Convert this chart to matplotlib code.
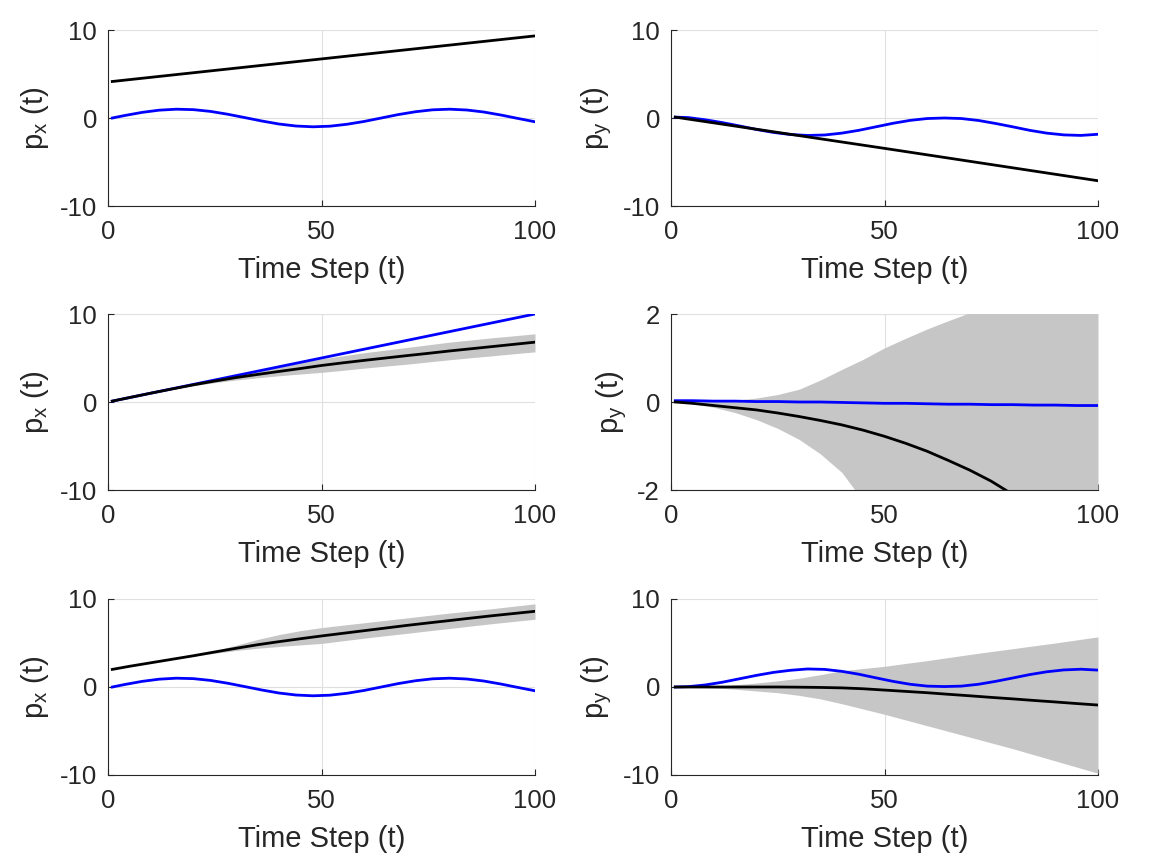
import numpy as np
import matplotlib.pyplot as plt

plt.rcParams['font.family'] = ['Liberation Sans', 'DejaVu Sans']
plt.rcParams['mathtext.default'] = 'regular'
plt.rcParams['axes.unicode_minus'] = False

# time steps used for the wavy blue curves
t_wave = [1, 4, 8, 12, 16, 20, 24, 28, 32, 36, 40, 44, 48, 52,
          56, 60, 64, 68, 72, 76, 80, 84, 88, 92, 96, 100]
# time steps used for the black estimates and grey bands
t_est = [1, 5, 10, 15, 20, 25, 30, 35, 40, 45, 50, 55, 60, 65, 70,
         75, 80, 85, 90, 95, 100]

# px, true trajectory (rows 1 and 3)
px_true_wave = [0.0, 0.29, 0.64, 0.89, 1.0, 0.95, 0.75, 0.43, 0.05, -0.34,
                -0.68, -0.91, -1.0, -0.93, -0.71, -0.39, 0.0, 0.39, 0.71,
                0.93, 1.0, 0.91, 0.68, 0.34, -0.05, -0.43]
# py, true trajectory (row 3) ; row 1 is roughly its negative
py_true_wave = [0.0, 0.04, 0.23, 0.54, 0.93, 1.32, 1.66, 1.90, 2.05, 2.0,
                1.78, 1.45, 1.04, 0.64, 0.31, 0.1, 0.05, 0.1, 0.31, 0.64,
                1.02, 1.41, 1.73, 1.94, 2.02, 1.92]
py_row1_wave = [0.1, 0.05, -0.2, -0.52, -0.9, -1.3, -1.64, -1.88, -1.98,
                -1.93, -1.72, -1.4, -1.0, -0.6, -0.27, -0.06, 0.0, -0.06,
                -0.28, -0.62, -1.0, -1.4, -1.72, -1.92, -1.98, -1.85]

# row 1 black
px_row1_est_t = [1, 100]
px_row1_est = [4.15, 9.33]
py_row1_est_t = [1, 50, 100]
py_row1_est = [0.1, -3.45, -7.13]

# row 2
px_row2_true = [0.1, 0.5, 1.0, 1.5, 2.0, 2.5, 3.0, 3.5, 4.0, 4.5, 5.0,
                5.5, 6.0, 6.5, 7.0, 7.5, 8.0, 8.5, 9.0, 9.5, 10.0]
px_row2_est = [0.1, 0.5, 1.0, 1.48, 1.95, 2.38, 2.78, 3.13, 3.47, 3.8, 4.15,
               4.45, 4.73, 5.0, 5.27, 5.53, 5.8, 6.05, 6.3, 6.55, 6.8]
px_row2_hi = [0.1, 0.5, 1.0, 1.5, 1.98, 2.45, 2.95, 3.45, 3.95, 4.45, 4.9,
              5.25, 5.6, 5.9, 6.2, 6.5, 6.8, 7.05, 7.3, 7.52, 7.75]
px_row2_lo = [0.1, 0.5, 1.0, 1.45, 1.85, 2.2, 2.5, 2.75, 2.98, 3.18, 3.37,
              3.6, 3.85, 4.08, 4.3, 4.55, 4.8, 5.03, 5.25, 5.48, 5.7]

py_row2_true = [0.03, 0.03, 0.02, 0.02, 0.01, 0.01, 0.0, 0.0, -0.01, -0.02,
                -0.03, -0.03, -0.04, -0.05, -0.05, -0.06, -0.06, -0.07,
                -0.07, -0.08, -0.08]
py_row2_est = [0.0, -0.03, -0.08, -0.13, -0.18, -0.25, -0.33, -0.42, -0.52,
               -0.64, -0.78, -0.94, -1.12, -1.33, -1.55, -1.8, -2.1, -2.45,
               -2.85, -3.25, -3.7]
py_row2_hi = [0.0, 0.01, 0.02, 0.04, 0.09, 0.17, 0.29, 0.5, 0.74, 0.97,
              1.23, 1.45, 1.66, 1.85, 2.03, 2.2, 2.4, 2.6, 2.8, 3.0, 3.2]
py_row2_lo = [0.0, -0.04, -0.12, -0.24, -0.4, -0.6, -0.85, -1.18, -1.6,
              -2.25, -3.0, -3.7, -4.4, -5.0, -5.6, -6.2, -6.9, -7.5, -8.1,
              -8.8, -9.5]

# row 3
px_row3_est = [2.0, 2.35, 2.75, 3.15, 3.55, 3.98, 4.4, 4.8, 5.15, 5.48, 5.8,
               6.1, 6.4, 6.7, 7.0, 7.28, 7.55, 7.83, 8.1, 8.35, 8.6]
px_row3_hi = [2.0, 2.35, 2.75, 3.15, 3.6, 4.15, 4.75, 5.4, 5.95, 6.4, 6.75,
              7.03, 7.3, 7.58, 7.85, 8.13, 8.4, 8.65, 8.9, 9.18, 9.45]
px_row3_lo = [2.0, 2.35, 2.75, 3.15, 3.5, 3.83, 4.15, 4.4, 4.6, 4.78, 4.95,
              5.25, 5.55, 5.83, 6.1, 6.38, 6.65, 6.93, 7.2, 7.45, 7.7]

py_row3_est = [0.0, 0.0, 0.0, 0.0, 0.0, 0.0, -0.02, -0.05, -0.1, -0.2,
               -0.35, -0.5, -0.65, -0.83, -1.0, -1.18, -1.35, -1.53, -1.7,
               -1.88, -2.05]
py_row3_hi = [0.0, 0.02, 0.08, 0.25, 0.45, 0.7, 1.0, 1.4, 1.85, 2.1, 2.35,
              2.68, 3.0, 3.35, 3.7, 4.03, 4.35, 4.68, 5.0, 5.35, 5.7]
py_row3_lo = [0.0, -0.02, -0.1, -0.25, -0.45, -0.65, -0.95, -1.35, -1.9,
              -2.5, -3.1, -3.75, -4.4, -5.05, -5.7, -6.35, -7.0, -7.7, -8.4,
              -9.1, -9.8]

dark = (0.15, 0.15, 0.15)
grey_fill = '#c6c6c6'
fig_w, fig_h = 1164, 867


def style_axes(ax, ylim, yticks, ylabel):
    ax.set_xlim(0, 100)
    ax.set_ylim(ylim)
    ax.set_xticks([0, 50, 100])
    ax.set_yticks(yticks)
    ax.grid(True, color='#dfdfdf', linewidth=0.8)
    ax.set_axisbelow(True)
    for side in ['top', 'right']:
        ax.spines[side].set_visible(False)
    for side in ['left', 'bottom']:
        ax.spines[side].set_color(dark)
        ax.spines[side].set_linewidth(0.8)
    ax.tick_params(direction='in', length=4, width=0.8, colors=dark,
                   labelsize=18.5, pad=8)
    ax.tick_params(axis='x', pad=10)
    ax.set_xlabel('Time Step (t)', fontsize=21, color=dark, labelpad=9)
    ax.set_ylabel(ylabel, fontsize=21, color=dark, labelpad=6)


def add_axes(fig, left_px, top_px):
    w = 427 / fig_w
    h = 176 / fig_h
    return fig.add_axes([left_px / fig_w, 1 - (top_px + 176) / fig_h, w, h])


fig = plt.figure(figsize=(fig_w / 100, fig_h / 100), dpi=100)
lefts = [108, 671]
tops = [30, 314, 599]

# row 1
ax = add_axes(fig, lefts[0], tops[0])
ax.plot(t_wave, px_true_wave, color='blue', lw=2)
ax.plot(px_row1_est_t, px_row1_est, color='black', lw=2)
style_axes(ax, (-10, 10), [-10, 0, 10], r'p$_x$ (t)')

ax = add_axes(fig, lefts[1], tops[0])
ax.plot(t_wave, py_row1_wave, color='blue', lw=2)
ax.plot(py_row1_est_t, py_row1_est, color='black', lw=2)
style_axes(ax, (-10, 10), [-10, 0, 10], r'p$_y$ (t)')

# row 2
ax = add_axes(fig, lefts[0], tops[1])
ax.fill_between(t_est, px_row2_lo, px_row2_hi, color=grey_fill, lw=0)
ax.plot(t_est, px_row2_true, color='blue', lw=2)
ax.plot(t_est, px_row2_est, color='black', lw=2)
style_axes(ax, (-10, 10), [-10, 0, 10], r'p$_x$ (t)')

ax = add_axes(fig, lefts[1], tops[1])
ax.fill_between(t_est, py_row2_lo, py_row2_hi, color=grey_fill, lw=0)
ax.plot(t_est, py_row2_true, color='blue', lw=2)
ax.plot(t_est, py_row2_est, color='black', lw=2)
style_axes(ax, (-2, 2), [-2, 0, 2], r'p$_y$ (t)')

# row 3
ax = add_axes(fig, lefts[0], tops[2])
ax.fill_between(t_est, px_row3_lo, px_row3_hi, color=grey_fill, lw=0)
ax.plot(t_wave, px_true_wave, color='blue', lw=2)
ax.plot(t_est, px_row3_est, color='black', lw=2)
style_axes(ax, (-10, 10), [-10, 0, 10], r'p$_x$ (t)')

ax = add_axes(fig, lefts[1], tops[2])
ax.fill_between(t_est, py_row3_lo, py_row3_hi, color=grey_fill, lw=0)
ax.plot(t_wave, py_true_wave, color='blue', lw=2)
ax.plot(t_est, py_row3_est, color='black', lw=2)
style_axes(ax, (-10, 10), [-10, 0, 10], r'p$_y$ (t)')

fig.savefig('out.png', dpi=100)
